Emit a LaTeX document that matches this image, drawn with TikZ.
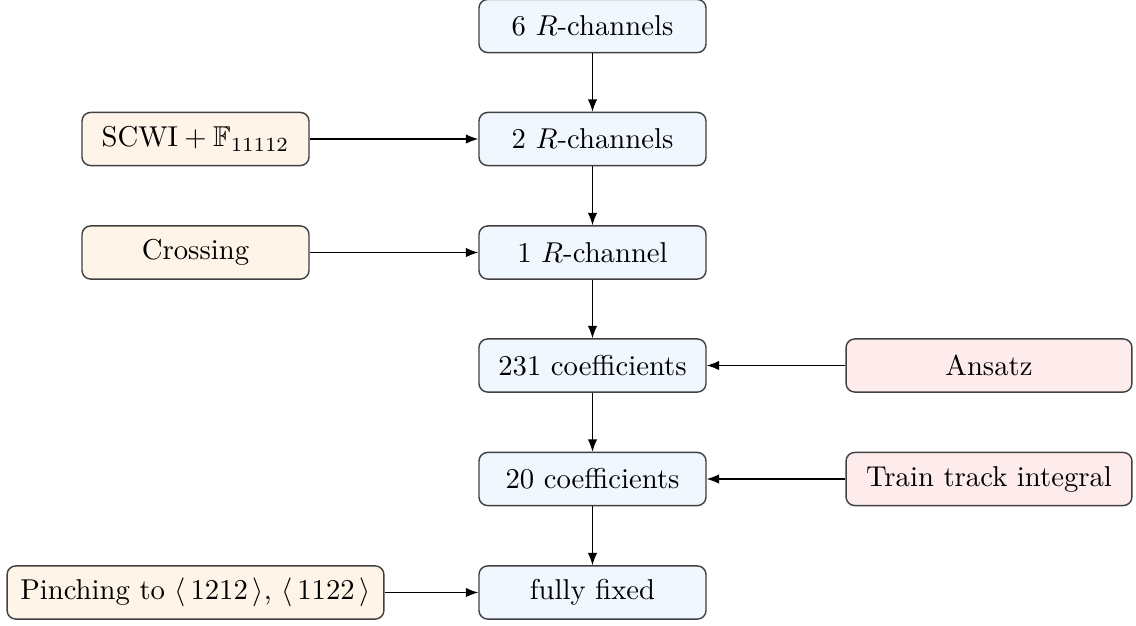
\documentclass[tikz,border=0pt]{standalone}
\usepackage{amsmath,amssymb}
\usetikzlibrary{arrows.meta}
\definecolor{mainfill}{RGB}{240,247,254}
\definecolor{leftfill}{RGB}{254,244,232}
\definecolor{rightfill}{RGB}{254,236,236}
\tikzset{
  box/.style={draw=black!75, line width=0.5pt, rounded corners=3pt, minimum height=18.5pt, inner xsep=4.6pt, align=center},
  mainbox/.style={box, fill=mainfill, minimum width=79.1pt},
  leftbox/.style={box, fill=leftfill, minimum width=79.1pt},
  rightbox/.style={box, fill=rightfill, minimum width=99.6pt},
  arr/.style={-{Latex[length=4.3pt,width=3.3pt]}, line width=0.45pt, black},
}
\begin{document}
\begin{tikzpicture}[x=0.3484pt, y=-0.3484pt]
\useasboundingbox (0,0) rectangle (1136,625);
\node[mainbox] (m1) at (592.5,26) {$6$ $R$-channels};
\node[mainbox] (m2) at (592.5,139) {$2$ $R$-channels};
\node[mainbox] (m3) at (592.5,252.5) {$1$ $R$-channel};
\node[mainbox] (m4) at (592.5,365.5) {231 coefficients};
\node[mainbox] (m5) at (592.5,479) {20 coefficients};
\node[mainbox] (m6) at (592.5,592.5) {fully fixed};
\node[leftbox] (l2) at (195.5,139) {$\mathrm{SCWI}+\mathbb{F}_{11112}$};
\node[leftbox] (l3) at (195.5,252.5) {Crossing};
\node[leftbox] (l6) at (195.5,592.5) {Pinching to $\langle\,1212\,\rangle$, $\langle\,1122\,\rangle$};
\node[rightbox] (r4) at (989,365.5) {Ansatz};
\node[rightbox] (r5) at (989,479) {Train track integral};
\draw[arr] (m1) -- (m2);
\draw[arr] (m2) -- (m3);
\draw[arr] (m3) -- (m4);
\draw[arr] (m4) -- (m5);
\draw[arr] (m5) -- (m6);
\draw[arr] (l2) -- (m2);
\draw[arr] (l3) -- (m3);
\draw[arr] (l6) -- (m6);
\draw[arr] (r4) -- (m4);
\draw[arr] (r5) -- (m5);
\end{tikzpicture}
\end{document}
